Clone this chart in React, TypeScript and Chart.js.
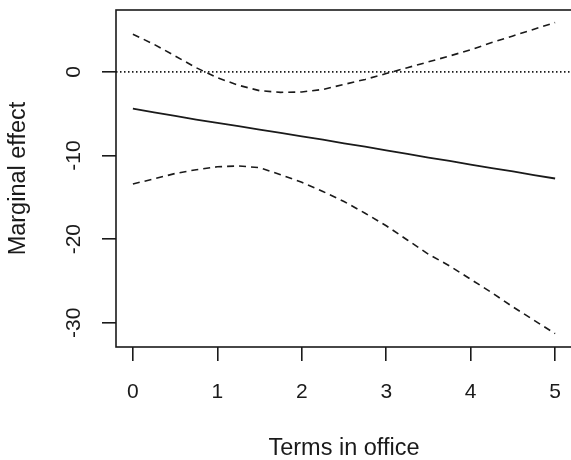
import { useEffect, useRef } from "react";
import { Chart, registerables } from "chart.js";

Chart.register(...registerables);

// ---- Data ----
const terms = [0, 0.25, 0.5, 0.75, 1, 1.25, 1.5, 1.75, 2, 2.25, 2.5, 2.75, 3, 3.25, 3.5, 3.75, 4, 4.25, 4.5, 4.75, 5];
const effect = [-4.4, -4.85, -5.25, -5.7, -6.1, -6.5, -6.9, -7.3, -7.7, -8.1, -8.55, -8.95, -9.4, -9.8, -10.25, -10.65, -11.1, -11.5, -11.9, -12.35, -12.75];
const upper = [4.5, 3.3, 1.9, 0.5, -0.7, -1.6, -2.25, -2.45, -2.4, -2.1, -1.5, -0.9, -0.2, 0.5, 1.2, 1.9, 2.65, 3.5, 4.3, 5.1, 5.9];
const lower = [-13.4, -12.8, -12.15, -11.7, -11.35, -11.25, -11.45, -12.3, -13.2, -14.3, -15.5, -16.9, -18.4, -20.1, -21.8, -23.2, -24.8, -26.4, -28.1, -29.7, -31.3];
const zeroLineX = [-0.2, 5.2];
const zeroLineY = [0, 0];
const xTicks = [0, 1, 2, 3, 4, 5];
const yTicks = [-30, -20, -10, 0];
const xRange = [-0.2, 5.2];
const yRange = [-32.9, 7.4];
const xLabel = "Terms in office";
const yLabel = "Marginal effect";

const FONT = "'Liberation Sans', Arial, Helvetica, sans-serif";
const INK = "#1a1a1a";

const toPoints = (xs: number[], ys: number[]) => xs.map((x, i) => ({ x, y: ys[i] }));

const boxPlugin = {
  id: "rbox",
  afterDatasetsDraw(chart: any) {
    const { ctx, chartArea } = chart;
    const { left, top, right, bottom } = chartArea;
    ctx.save();
    ctx.strokeStyle = INK;
    ctx.lineWidth = 1.6;
    ctx.strokeRect(left, top, right - left, bottom - top);
    ctx.restore();
  },
};

export default function App() {
  const ref = useRef<HTMLCanvasElement | null>(null);

  useEffect(() => {
    if (!ref.current) return;
    const chart = new Chart(ref.current, {
      type: "line",
      data: {
        datasets: [
          {
            data: toPoints(zeroLineX, zeroLineY),
            borderColor: INK,
            borderWidth: 1.6,
            borderDash: [1.5, 2.5],
            pointRadius: 0,
          },
          {
            data: toPoints(terms, upper),
            borderColor: INK,
            borderWidth: 1.6,
            borderDash: [7, 5],
            pointRadius: 0,
          },
          {
            data: toPoints(terms, effect),
            borderColor: INK,
            borderWidth: 1.8,
            pointRadius: 0,
          },
          {
            data: toPoints(terms, lower),
            borderColor: INK,
            borderWidth: 1.6,
            borderDash: [7, 5],
            pointRadius: 0,
          },
        ],
      },
      options: {
        responsive: false,
        animation: false,
        devicePixelRatio: 1,
        layout: { padding: { top: 10, right: 8, left: 0, bottom: 0 } },
        plugins: {
          legend: { display: false },
          tooltip: { enabled: false },
        },
        scales: {
          x: {
            type: "linear",
            min: xRange[0],
            max: xRange[1],
            afterBuildTicks: (scale: any) => {
              scale.ticks = xTicks.map((v) => ({ value: v }));
            },
            afterFit: (scale: any) => {
              scale.height = 113;
              scale.paddingLeft = 0;
              scale.paddingRight = 0;
            },
            border: { display: false },
            grid: {
              display: true,
              drawOnChartArea: false,
              drawTicks: true,
              tickLength: 14,
              color: INK,
              lineWidth: 1.6,
            },
            ticks: {
              color: INK,
              font: { family: FONT, size: 21 },
              padding: 19,
              maxRotation: 0,
              minRotation: 0,
              callback: (v: any) => String(v),
            },
            title: {
              display: true,
              text: xLabel,
              color: INK,
              font: { family: FONT, size: 23.5, lineHeight: 1.0 },
              padding: { top: 0, bottom: 0 },
            },
          },
          y: {
            type: "linear",
            min: yRange[0],
            max: yRange[1],
            afterBuildTicks: (scale: any) => {
              scale.ticks = yTicks.map((v) => ({ value: v }));
            },
            afterFit: (scale: any) => {
              scale.width = 116;
              scale.paddingTop = 0;
              scale.paddingBottom = 0;
            },
            border: { display: false },
            grid: {
              display: true,
              drawOnChartArea: false,
              drawTicks: true,
              tickLength: 14,
              color: INK,
              lineWidth: 1.6,
            },
            ticks: {
              color: INK,
              font: { family: FONT, size: 21 },
              padding: 13,
              crossAlign: "center",
              minRotation: 90,
              maxRotation: 90,
              callback: (v: any) => String(v),
            },
            title: {
              display: true,
              text: yLabel,
              color: INK,
              font: { family: FONT, size: 23.5 },
              padding: { top: 4, bottom: 0 },
            },
          },
        },
      },
      plugins: [boxPlugin],
    } as any);
    return () => chart.destroy();
  }, []);

  return (
    <div
      style={{
        position: "fixed",
        left: 0,
        top: 0,
        width: 571,
        height: 460,
        overflow: "hidden",
        background: "#fff",
      }}
    >
      <canvas ref={ref} width={580} height={460} style={{ display: "block" }} />
    </div>
  );
}
